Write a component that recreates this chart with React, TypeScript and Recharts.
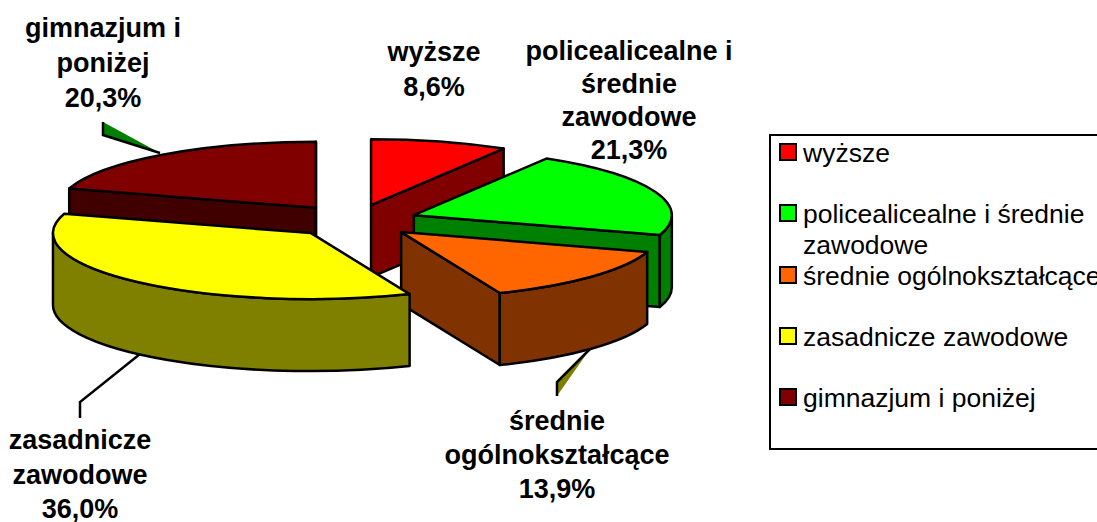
import React from 'react';
import { PieChart, Pie, Legend } from 'recharts';

const categories = ['wyższe', 'policealicealne i średnie zawodowe', 'średnie ogólnokształcące', 'zasadnicze zawodowe', 'gimnazjum i poniżej'];
const shares = [8.6, 21.3, 13.9, 36.0, 20.3];
const colors = ['#ff0000', '#00ff00', '#ff6600', '#ffff00', '#800000'];
const wallColors = ['#800000', '#008000', '#803300', '#808000', '#400000'];

// the last slice sits at the back, so it goes first and gets painted first
const rows = categories.map((name, i) => ({ name, value: shares[i], fill: colors[i], wall: wallColors[i] }));
const table = [rows[4], ...rows.slice(0, 4)];
const total = shares.reduce((a, b) => a + b, 0);
const startAngle = 90 + (shares[4] / total) * 360;

const labelLines: Record<string, string[]> = {
  'wyższe': ['wyższe'],
  'policealicealne i średnie zawodowe': ['policealicealne i', 'średnie', 'zawodowe'],
  'średnie ogólnokształcące': ['średnie', 'ogólnokształcące'],
  'zasadnicze zawodowe': ['zasadnicze', 'zawodowe'],
  'gimnazjum i poniżej': ['gimnazjum i', 'poniżej'],
};

// label anchor: centre x, first baseline, line step
const labelPlace: Record<string, [number, number, number]> = {
  'wyższe': [434, 61, 35],
  'policealicealne i średnie zawodowe': [629, 60, 33],
  'średnie ogólnokształcące': [557, 430, 34],
  'zasadnicze zawodowe': [80, 449, 34.5],
  'gimnazjum i poniżej': [103, 37, 35],
};

const RY = 66 / 258; // squash of the tilted pie
const DEPTH = 72;
const EXPLODE = 0.248;

const rad = (d: number) => (d * Math.PI) / 180;

const Slice3D = (props: any) => {
  const { cx, cy, outerRadius: rx, startAngle: sa, endAngle: ea, midAngle, fill, wall } = props;
  const ry = rx * RY;
  const t1 = 90 - sa;
  const t2 = 90 - ea;
  const tm = 90 - midAngle;
  const ax = cx + EXPLODE * rx * Math.sin(rad(tm));
  const ay = cy - EXPLODE * ry * Math.cos(rad(tm));
  const pt = (t: number, dy = 0) => [ax + rx * Math.sin(rad(t)), ay - ry * Math.cos(rad(t)) + dy];

  const face = (t: number) => {
    const [x, y] = pt(t);
    return `M${ax},${ay} L${x},${y} L${x},${y + DEPTH} L${ax},${ay + DEPTH} Z`;
  };
  const [x1, y1] = pt(t1);
  const [x2, y2] = pt(t2);
  const top = `M${ax},${ay} L${x1},${y1} A${rx},${ry} 0 ${t2 - t1 > 180 ? 1 : 0} 1 ${x2},${y2} Z`;

  // front part of the rim only
  const w1 = Math.max(t1, 90);
  const w2 = Math.min(t2, 270);
  let rim = null;
  if (w2 > w1) {
    const [a, b] = pt(w1);
    const [c, d] = pt(w2);
    rim = `M${a},${b} A${rx},${ry} 0 0 1 ${c},${d} L${c},${d + DEPTH} A${rx},${ry} 0 0 0 ${a},${b + DEPTH} Z`;
  }
  const edge = { stroke: '#000', strokeWidth: 2.5, strokeLinejoin: 'round' as const };
  return (
    <g>
      {Math.sin(rad(t1)) < 0 && <path d={face(t1)} fill={wall} {...edge} />}
      {Math.sin(rad(t2)) > 0 && <path d={face(t2)} fill={wall} {...edge} />}
      {rim && <path d={rim} fill={wall} {...edge} />}
      <path d={top} fill={fill} {...edge} />
    </g>
  );
};

const SliceLabel = (props: any) => {
  const { name, value } = props;
  const [x, y, step] = labelPlace[name];
  const lines = [...labelLines[name], `${value.toFixed(1).replace('.', ',')}%`];
  return (
    <text x={x} y={y} textAnchor="middle" fontFamily="Liberation Sans" fontWeight="bold" fontSize={27} fill="#000">
      {lines.map((l, i) => (
        <tspan key={i} x={x} y={y + i * step}>{l}</tspan>
      ))}
    </text>
  );
};

const LegendBox = ({ payload }: any) => {
  const items = [...(payload || [])].sort((a: any, b: any) => categories.indexOf(a.value) - categories.indexOf(b.value));
  return (
    <div style={{ border: '2.5px solid #000', height: 316, width: 340, boxSizing: 'border-box', fontFamily: 'Liberation Sans', fontSize: 26.5, color: '#000' }}>
      {items.map((it: any) => (
        <div key={it.value} style={{ height: 61.3, display: 'flex', alignItems: 'flex-start' }}>
          <div style={{ width: 14, height: 14, margin: '7px 6px 0 8px', border: '2px solid #000', background: it.color, flex: 'none' }} />
          <div style={{ width: 305, lineHeight: '31px', paddingTop: 2, flex: 'none' }}>{it.value}</div>
        </div>
      ))}
    </div>
  );
};

export default function App() {
  return (
    <div style={{ position: 'absolute', left: 0, top: 0, width: 1097, height: 522, overflow: 'hidden', background: '#fff' }}>
      <PieChart width={1097} height={522} margin={{ top: 0, right: 0, bottom: 0, left: 0 }}>
        <Pie
          data={table}
          dataKey="value"
          nameKey="name"
          cx={354}
          cy={221}
          innerRadius={0}
          outerRadius={258}
          startAngle={startAngle}
          endAngle={startAngle - 360}
          shape={Slice3D}
          label={SliceLabel}
          labelLine={false}
          isAnimationActive={false}
        />
        <Legend content={LegendBox} wrapperStyle={{ left: 769, top: 134, width: 340, bottom: 'auto' }} />
        {/* the odd leader lines of the original label callouts */}
        <path d="M103,122 L103,135 L160,153 Z" fill="#008000" stroke="none" />
        <path d="M103,122 L103,135 L160,153" fill="none" stroke="#000" strokeWidth={2.5} />
        <path d="M590,349 L557,382 L557,396 Z" fill="#808000" stroke="none" />
        <path d="M590,349 L557,382 L557,396" fill="none" stroke="#000" strokeWidth={2.5} />
        <path d="M140,354 L80,402 L80,418" fill="none" stroke="#000" strokeWidth={2.5} />
      </PieChart>
    </div>
  );
}
